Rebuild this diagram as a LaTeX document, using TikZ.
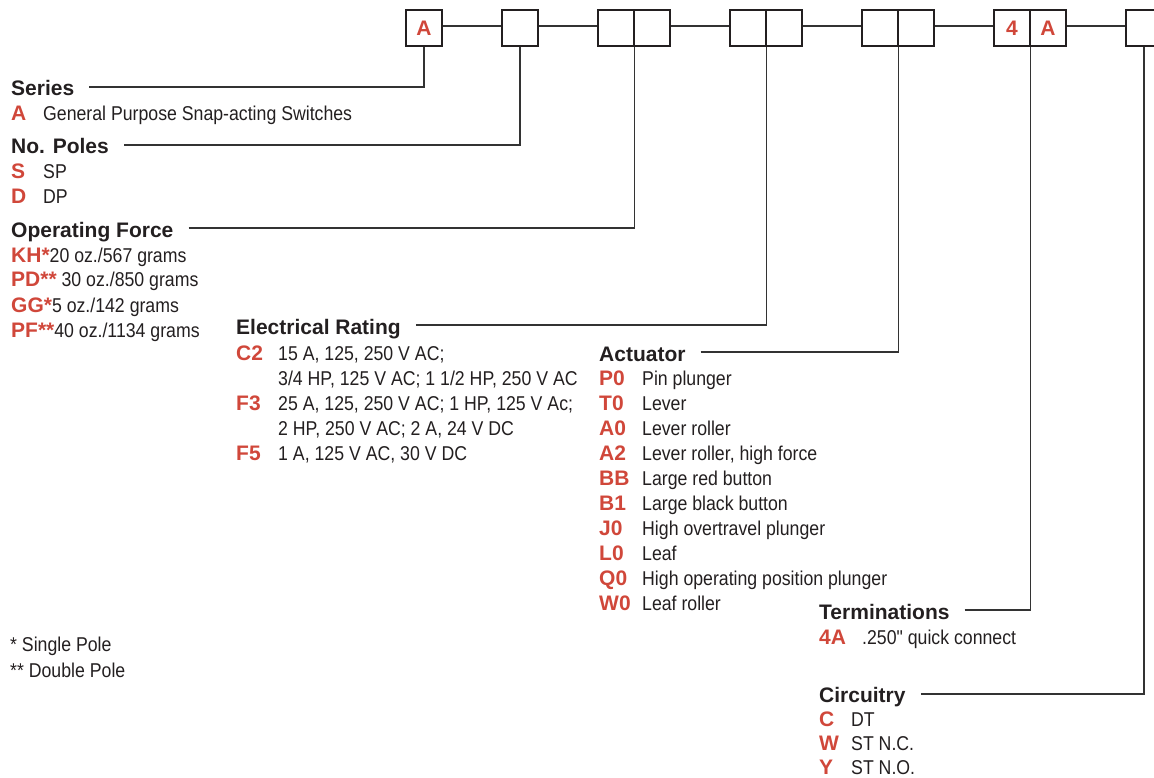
\documentclass[tikz,border=0pt]{standalone}
\usepackage{fontspec}
\setmainfont{Liberation Sans}
\newfontfamily\condfont[FakeStretch=0.885]{Liberation Sans}
\definecolor{codered}{HTML}{D0473A}
\definecolor{ink}{HTML}{231F20}
\definecolor{rulegray}{HTML}{333333}
\newcommand{\codetxt}[1]{{\normalfont\fontsize{21}{25}\selectfont\bfseries\color{codered}#1}}
\begin{document}
\begin{tikzpicture}[x=1pt,y=-1pt,
  hd/.style={anchor=base west,inner sep=0pt,font=\fontsize{21}{25}\selectfont\bfseries,text=ink},
  cd/.style={anchor=base west,inner sep=0pt,font=\fontsize{21}{25}\selectfont\bfseries,text=codered},
  ds/.style={anchor=base west,inner sep=0pt,font=\fontsize{20}{25}\selectfont\condfont,text=ink},
  cell/.style={draw=ink,line width=1.6pt,minimum width=36pt,minimum height=36pt,inner sep=0pt,font=\fontsize{21}{25}\selectfont\bfseries,text=codered},
  lead/.style={draw=rulegray,line width=1.3pt},
]
\useasboundingbox (0,0) rectangle (1154,778);

% code boxes
\node[cell] (b1) at (424,28) {A};
\node[cell] (b2) at (520,28) {};
\node[cell] (b3a) at (616,28) {};
\node[cell] (b3b) at (652,28) {};
\node[cell] (b4a) at (748,28) {};
\node[cell] (b4b) at (784,28) {};
\node[cell] (b5a) at (880,28) {};
\node[cell] (b5b) at (916,28) {};
\node[cell] (b6a) at (1012,28) {4};
\node[cell] (b6b) at (1048,28) {A};
\node[cell] (b7) at (1144,28) {};

\draw[lead] ([yshift=2pt]b1.east) -- ([yshift=2pt]b2.west);
\draw[lead] ([yshift=2pt]b2.east) -- ([yshift=2pt]b3a.west);
\draw[lead] ([yshift=2pt]b3b.east) -- ([yshift=2pt]b4a.west);
\draw[lead] ([yshift=2pt]b4b.east) -- ([yshift=2pt]b5a.west);
\draw[lead] ([yshift=2pt]b5b.east) -- ([yshift=2pt]b6a.west);
\draw[lead] ([yshift=2pt]b6b.east) -- ([yshift=2pt]b7.west);

% Series
\node[hd] (hser) at (11,96) {Series};
\node[cd] (cA) at (11,121) {A};
\node[ds] (dA) at (43,121) {General Purpose Snap-acting Switches};

% No. Poles
\node[hd] (hpol) at (11,154) {No. Poles};
\node[cd] (cS) at (11,179) {S};
\node[ds] (dS) at (43,179) {SP};
\node[cd] (cD) at (11,204) {D};
\node[ds] (dD) at (43,204) {DP};

% Operating Force
\node[hd] (hfor) at (11,237) {Operating Force};
\node[ds] (fKH) at (11,262) {\codetxt{KH*}20 oz./567 grams};
\node[ds] (fPD) at (11,287) {\codetxt{PD**} 30 oz./850 grams};
\node[ds] (fGG) at (11,312) {\codetxt{GG*}5 oz./142 grams};
\node[ds] (fPF) at (11,337) {\codetxt{PF**}40 oz./1134 grams};

% Electrical Rating
\node[hd] (hele) at (236,334) {Electrical Rating};
\node[cd] (cC2) at (236,360) {C2};
\node[ds] (dC2a) at (278,360) {15 A, 125, 250 V AC;};
\node[ds] (dC2b) at (278,385) {3/4 HP, 125 V AC; 1 1/2 HP, 250 V AC};
\node[cd] (cF3) at (236,410) {F3};
\node[ds] (dF3a) at (278,410) {25 A, 125, 250 V AC; 1 HP, 125 V Ac;};
\node[ds] (dF3b) at (278,435) {2 HP, 250 V AC; 2 A, 24 V DC};
\node[cd] (cF5) at (236,460) {F5};
\node[ds] (dF5) at (278,460) {1 A, 125 V AC, 30 V DC};

% Actuator
\node[hd] (hact) at (599,361) {Actuator};
\foreach \c/\t [count=\i] in {P0/Pin plunger, T0/Lever, A0/Lever roller, A2/{Lever roller, high force}, BB/Large red button, B1/Large black button, J0/High overtravel plunger, L0/Leaf, Q0/High operating position plunger, W0/Leaf roller}{
  \node[cd] (ac\i) at (599,360+25*\i) {\c};
  \node[ds] (ad\i) at (642,360+25*\i) {\t};
}

% Terminations
\node[hd] (hter) at (819,619) {Terminations};
\node[cd] (c4A) at (819,644) {4A};
\node[ds] (d4A) at (862,644) {.250" quick connect};

% Circuitry
\node[hd] (hcir) at (819,702) {Circuitry};
\node[cd] (cC) at (819,726) {C};
\node[ds] (dC) at (851,726) {DT};
\node[cd] (cW) at (819,750) {W};
\node[ds] (dW) at (851,750) {ST N.C.};
\node[cd] (cY) at (819,774) {Y};
\node[ds] (dY) at (851,774) {ST N.O.};

% footnotes
\node[ds] (fn1) at (10,651) {* Single Pole};
\node[ds] (fn2) at (10,677) {** Double Pole};

% leaders
\draw[lead] ([xshift=15pt,yshift=9pt]hser.base east) -| (b1.south);
\draw[lead] ([xshift=15pt,yshift=9pt]hpol.base east) -| (b2.south);
\draw[lead] ([xshift=15pt,yshift=9pt]hfor.base east) -| (b3a.south east);
\draw[lead] ([xshift=15pt,yshift=9pt]hele.base east) -| (b4a.south east);
\draw[lead] ([xshift=15pt,yshift=9pt]hact.base east) -| (b5a.south east);
\draw[lead] ([xshift=15pt,yshift=9pt]hter.base east) -| (b6a.south east);
\draw[lead] ([xshift=15pt,yshift=8pt]hcir.base east) -| (b7.south);
\end{tikzpicture}
\end{document}
